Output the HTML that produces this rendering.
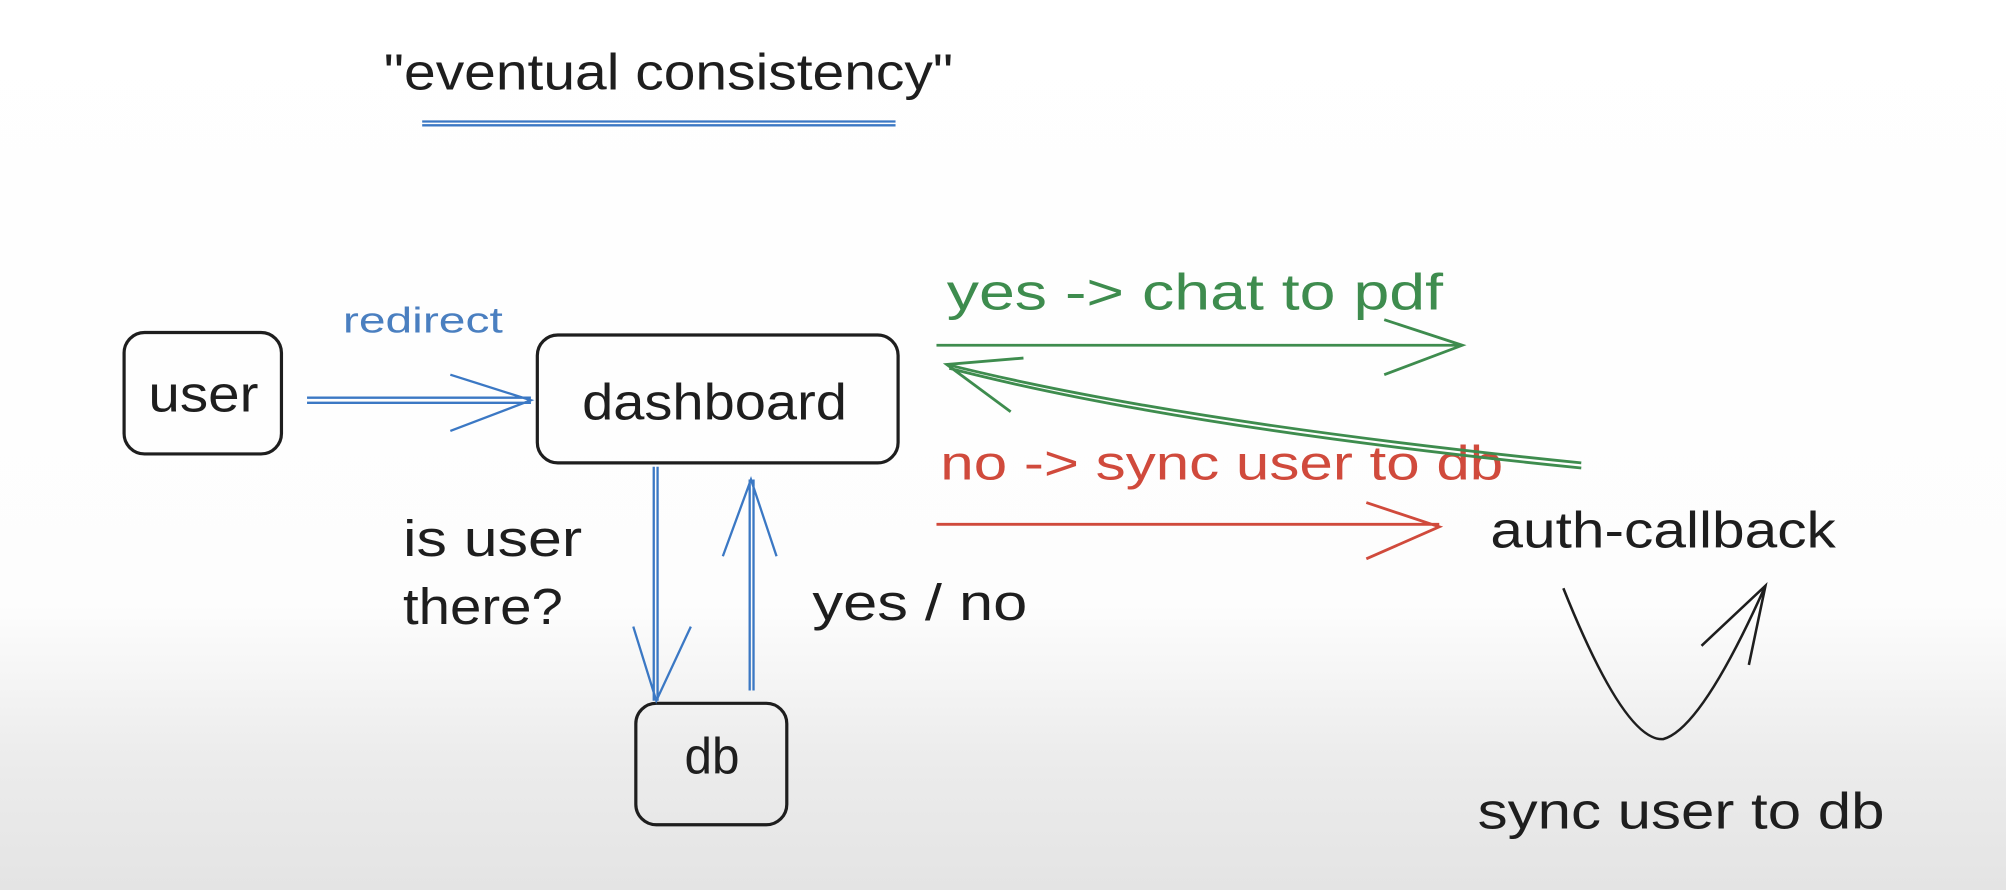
<!DOCTYPE html>
<html><head><meta charset="utf-8"><style>
html,body{margin:0;padding:0;width:2006px;height:890px;overflow:hidden;background:#fff}
svg{display:block}
text{font-family:"Liberation Sans",sans-serif}
</style></head><body>
<svg width="2006" height="890" viewBox="0 0 1568 696" preserveAspectRatio="none" xmlns="http://www.w3.org/2000/svg">
<defs><linearGradient id="bg" x1="0" y1="0" x2="0" y2="1">
<stop offset="0" stop-color="#fff"/><stop offset="0.68" stop-color="#fdfdfd"/><stop offset="0.85" stop-color="#ececec"/><stop offset="1" stop-color="#e4e4e4"/></linearGradient></defs>
<rect width="1568" height="696" fill="url(#bg)"/>
<g fill="#1e1e1e" font-size="40">
<text x="300" y="70" textLength="445" lengthAdjust="spacingAndGlyphs">"eventual consistency"</text>
<text x="116" y="322" textLength="86" lengthAdjust="spacingAndGlyphs">user</text>
<text x="455" y="328" textLength="207" lengthAdjust="spacingAndGlyphs">dashboard</text>
<text x="535" y="605" textLength="43" lengthAdjust="spacingAndGlyphs">db</text>
<text x="315" y="435" textLength="140" lengthAdjust="spacingAndGlyphs">is user</text>
<text x="315" y="488" textLength="125" lengthAdjust="spacingAndGlyphs">there?</text>
<text x="635" y="485" textLength="168" lengthAdjust="spacingAndGlyphs">yes / no</text>
<text x="1165" y="428" textLength="270" lengthAdjust="spacingAndGlyphs">auth-callback</text>
<text x="1155" y="648" textLength="318" lengthAdjust="spacingAndGlyphs">sync user to db</text>
</g>
<text x="268" y="260" font-size="28" fill="#4a7fc0" textLength="125" lengthAdjust="spacingAndGlyphs">redirect</text>
<text x="740" y="242" font-size="40" fill="#3e8c4e" textLength="388" lengthAdjust="spacingAndGlyphs">yes -&gt; chat to pdf</text>
<text x="735" y="375" font-size="38" fill="#d04a3c" textLength="440" lengthAdjust="spacingAndGlyphs">no -&gt; sync user to db</text>
<g fill="none" stroke="#1e1e1e" stroke-width="2.5">
<rect x="97" y="260" width="123" height="95" rx="16"/>
<rect x="420" y="262" width="282" height="100" rx="16"/>
<rect x="497" y="550" width="118" height="95" rx="16"/>
<path d="M1222 460 Q1270 580 1300 578 Q1330 570 1380 458 M1330 505 L1380 458 L1367 520" stroke-width="2"/>
</g>
<g fill="none" stroke="#3b78c4" stroke-width="1.8">
<path d="M330 95 H700 M330 98 H700"/>
<path d="M240 311 H415 M240 315 H415 M352 293 L415 313 L352 337"/>
<path d="M511 365 V548 M514 365 V548 M495 490 L513 548 L540 490"/>
<path d="M586 540 V375 M589 540 V375 M565 435 L587 375 L607 435"/>
</g>
<g fill="none" stroke="#3e8c4e" stroke-width="2.2">
<path d="M732 270 H1143 M1082 250 L1143 270 L1082 293"/>
<path d="M1236 362 Q920 330 740 285 M1236 366 Q920 334 742 288 M800 280 L740 285 L790 322"/>
</g>
<g fill="none" stroke="#d04a3c" stroke-width="2.2">
<path d="M732 410 H1125 M1068 393 L1125 412 L1068 437"/>
</g>
</svg>
</body></html>
